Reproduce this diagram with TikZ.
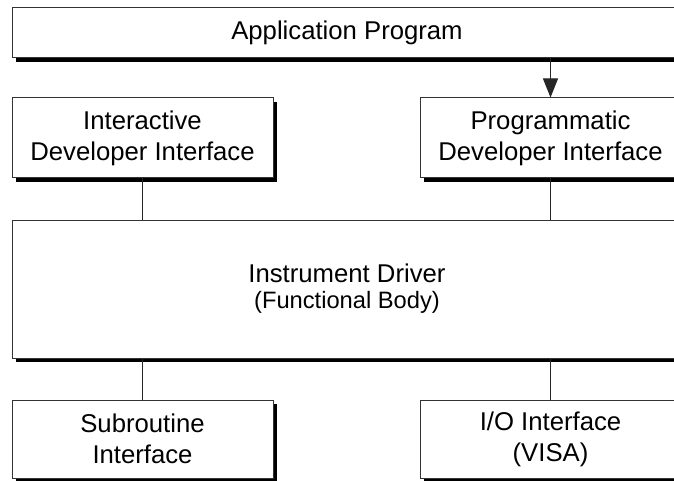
\documentclass[tikz,border=0pt]{standalone}
\usepackage{fontspec}
\setmainfont{Liberation Sans}
\usetikzlibrary{shadows,arrows.meta}
\begin{document}
\begin{tikzpicture}[x=1pt,y=-1pt,
  box/.style={draw=black!80, line width=1pt, fill=white, inner sep=0pt,
    align=center, font=\fontsize{25.7}{31}\selectfont,
    copy shadow={shadow xshift=4pt, shadow yshift=-4pt, fill=black, draw=none}},
  narrow/.style={box, minimum width=261pt},
  wide/.style={box, minimum width=670pt},
  link/.style={draw=black!85, line width=1pt}]
\useasboundingbox (0,0) rectangle (674,481);
\clip (0,0) rectangle (674,481);

% layers of the driver architecture
\node[wide, minimum height=50pt] (app) at (347,33) {Application Program};
\node[narrow, minimum height=80pt] (idi) at (142.5,138) {Interactive\\Developer Interface};
\node[narrow, minimum height=80pt] (pdi) at (550.5,138) {Programmatic\\Developer Interface};
\node[wide, minimum height=138pt] (drv) at (347,289)
  {Instrument Driver\\[-5pt]{\fontsize{23.7}{26}\selectfont(Functional Body)}};
\node[narrow, minimum height=78pt] (sub) at (142.5,439) {Subroutine\\Interface};
\node[narrow, minimum height=78pt] (io) at (550.5,439) {I/O Interface\\(VISA)};

% connectors
\draw[link, -{Triangle[length=19pt,width=15pt]}] (app.south -| pdi.north) -- (pdi.north);
\draw[link] (idi.south) -- (idi.south |- drv.north);
\draw[link] (pdi.south) -- (pdi.south |- drv.north);
\draw[link] (sub.north |- drv.south) -- (sub.north);
\draw[link] (io.north |- drv.south) -- (io.north);
\end{tikzpicture}
\end{document}
